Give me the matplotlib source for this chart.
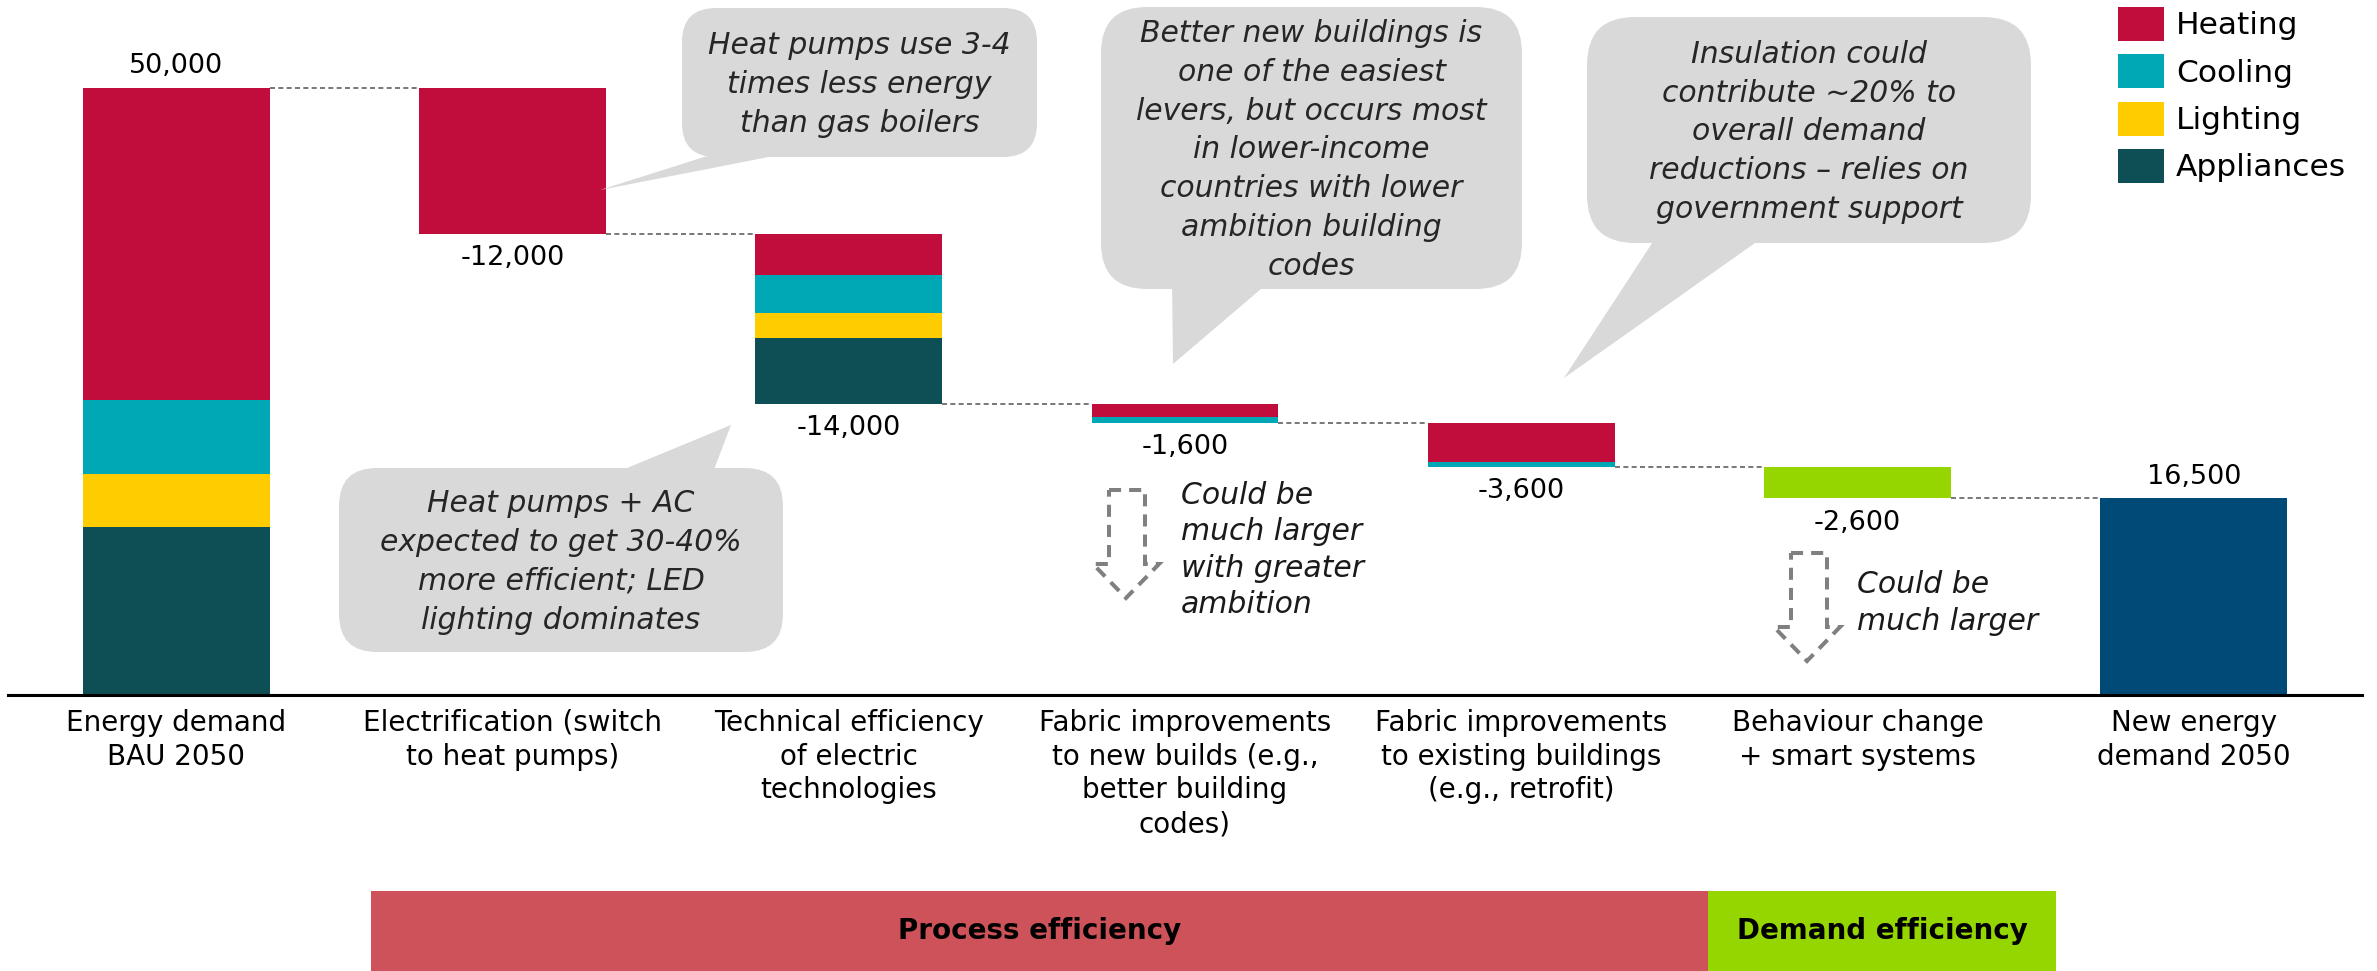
import matplotlib
matplotlib.use("Agg")
import matplotlib.pyplot as plt
from matplotlib.patches import FancyBboxPatch, Polygon, Rectangle
import numpy as np

W, H = 2377, 971

# --- data ---
end_uses = ["Heating", "Cooling", "Lighting", "Appliances"]
use_colors = ["#C00D3C", "#00A8B5", "#FFCC00", "#0E4F55"]

categories = [
    "Energy demand\nBAU 2050",
    "Electrification (switch\nto heat pumps)",
    "Technical efficiency\nof electric\ntechnologies",
    "Fabric improvements\nto new builds (e.g.,\nbetter building\ncodes)",
    "Fabric improvements\nto existing buildings\n(e.g., retrofit)",
    "Behaviour change\n+ smart systems",
    "New energy\ndemand 2050",
]

# split by end use: Heating, Cooling, Lighting, Appliances
bau_2050 = [25700, 6100, 4400, 13800]
electrification = [12000, 0, 0, 0]
technical_eff = [3400, 3100, 2100, 5400]
fabric_new = [1100, 500, 0, 0]
fabric_existing = [3200, 400, 0, 0]
behaviour_change = 2600
new_demand_2050 = 16500

bau_label = 50000
step_labels = [-12000, -14000, -1600, -3600, -2600]

band_names = ["Process efficiency", "Demand efficiency"]
band_colors = ["#CD525A", "#96D600"]

callout_texts = [
    "Heat pumps use 3-4\ntimes less energy\nthan gas boilers",
    "Better new buildings is\none of the easiest\nlevers, but occurs most\nin lower-income\ncountries with lower\nambition building\ncodes",
    "Insulation could\ncontribute ~20% to\noverall demand\nreductions \u2013 relies on\ngovernment support",
    "Heat pumps + AC\nexpected to get 30-40%\nmore efficient; LED\nlighting dominates",
]
arrow_texts = ["Could be\nmuch larger\nwith greater\nambition", "Could be\nmuch larger"]

green = "#96D600"
final_color = "#004A78"
callout_grey = "#D9D9D9"

# --- figure ---
fig = plt.figure(figsize=(W / 100, H / 100), dpi=100)
base_y = 695
ax = fig.add_axes([8 / W, (H - base_y) / H, (2362 - 8) / W, base_y / H])
ax.set_xlim(-0.5, 6.5)
ax.set_ylim(0, base_y * 50000 / 607)

bw = 0.556

# first bar: stack appliances at the bottom, heating on top
b = 0
for j in reversed(range(4)):
    ax.bar(0, bau_2050[j], bw, bottom=b, color=use_colors[j], linewidth=0)
    b += bau_2050[j]

level = sum(bau_2050)
levels = [level]
for i, red in enumerate([electrification, technical_eff, fabric_new, fabric_existing], start=1):
    level -= sum(red)
    b = level
    for j in reversed(range(4)):
        if red[j]:
            ax.bar(i, red[j], bw, bottom=b, color=use_colors[j], linewidth=0)
            b += red[j]
    levels.append(level)

level -= behaviour_change
ax.bar(5, behaviour_change, bw, bottom=level, color=green, linewidth=0)
levels.append(level)
ax.bar(6, level, bw, color=final_color, linewidth=0)

# dashed connectors
for i, lv in enumerate(levels):
    ax.plot([i + bw / 2, i + 1 - bw / 2], [lv, lv], color="#606060", lw=1.2,
            ls=(0, (3, 2)), zorder=1)

# value labels
ax.annotate(f"{bau_label:,}", (0, levels[0]), xytext=(0, 15.5), textcoords="offset points",
            ha="center", va="center", fontsize=19.5)
for i, v in enumerate(step_labels, start=1):
    ax.annotate(f"{v:,}", (i, levels[i]), xytext=(0, -17.5), textcoords="offset points",
                ha="center", va="center", fontsize=19.5)
ax.annotate(f"{new_demand_2050:,}", (6, levels[-1]), xytext=(0, 15.5), textcoords="offset points",
            ha="center", va="center", fontsize=19.5)

for s in ["top", "right", "left"]:
    ax.spines[s].set_visible(False)
ax.spines["bottom"].set_linewidth(2.2)
ax.set_yticks([])
ax.set_xticks(range(7))
ax.set_xticklabels(categories, fontsize=20)
ax.tick_params(axis="x", length=0, pad=10)
for lab in ax.get_xticklabels():
    lab.set_linespacing(1.26)

# --- overlay in pixel coords for callouts, legend and bands ---
ov = fig.add_axes([0, 0, 1, 1], zorder=5)
ov.set_xlim(0, W)
ov.set_ylim(H, 0)
ov.axis("off")
ov.patch.set_alpha(0)

# (box x0, y0, x1, y1), tail base x's, tail base y, tip, radius
callouts = [
    ((682, 8, 1037, 157), (742, 830), 157, (600, 190), 34),
    ((1101, 7, 1522, 289), (1172, 1275), 289, (1173, 364), 46),
    ((1587, 17, 2031, 243), (1660, 1772), 243, (1564, 378), 48),
    ((339, 468, 783, 652), (598, 710), 468, (731, 425), 38),
]
for (box, tb, ty, tip, r), txt in zip(callouts, callout_texts):
    x0, y0, x1, y1 = box
    ov.add_patch(FancyBboxPatch((x0, y0), x1 - x0, y1 - y0,
                                boxstyle=f"round,pad=0,rounding_size={r}",
                                fc=callout_grey, ec="none"))
    inside = -12 if ty == y1 else 12
    ov.add_patch(Polygon([(tb[0], ty + inside), (tb[1], ty + inside), tip],
                         closed=True, fc=callout_grey, ec="none"))
    ov.text((x0 + x1) / 2, (y0 + y1) / 2 + 2, txt, ha="center", va="center",
            fontsize=21.5, style="italic", color="#262626", linespacing=1.43)

# dashed "could be larger" arrows: shaft x0, x1, top, head y, wing x0, x1, tip
arrows = [
    (1109, 1145, 490, 564, 1093, 1159, (1126, 598)),
    (1791, 1827, 553, 627, 1774, 1840, (1807, 661)),
]
for (sx0, sx1, top, hy, wx0, wx1, tip) in arrows:
    pts = [(sx0, top), (sx1, top), (sx1, hy), (wx1, hy), tip, (wx0, hy), (sx0, hy)]
    ov.add_patch(Polygon(pts, closed=True, fill=False, ec="#808080", lw=2.9,
                         ls=(0, (3, 2))))
ov.text(1181, 550, arrow_texts[0], ha="left", va="center", fontsize=21.5,
        style="italic", color="#1a1a1a", linespacing=1.31)
ov.text(1857, 603, arrow_texts[1], ha="left", va="center", fontsize=21.5,
        style="italic", color="#1a1a1a", linespacing=1.31)

# legend
for k, (name, col) in enumerate(zip(end_uses, use_colors)):
    yt = 7 + k * 47.3
    ov.add_patch(Rectangle((2118, yt), 46, 34, fc=col, ec="none"))
    ov.text(2176, yt + 19, name, ha="left", va="center", fontsize=22.5)

# efficiency bands
band_x = [(371, 1708), (1708, 2056)]
for (bx0, bx1), name, col in zip(band_x, band_names, band_colors):
    ov.add_patch(Rectangle((bx0, 891), bx1 - bx0, 80, fc=col, ec="none"))
    ov.text((bx0 + bx1) / 2, 931, name, ha="center", va="center",
            fontsize=20, fontweight="bold")

fig.savefig("out.png", dpi=100)
